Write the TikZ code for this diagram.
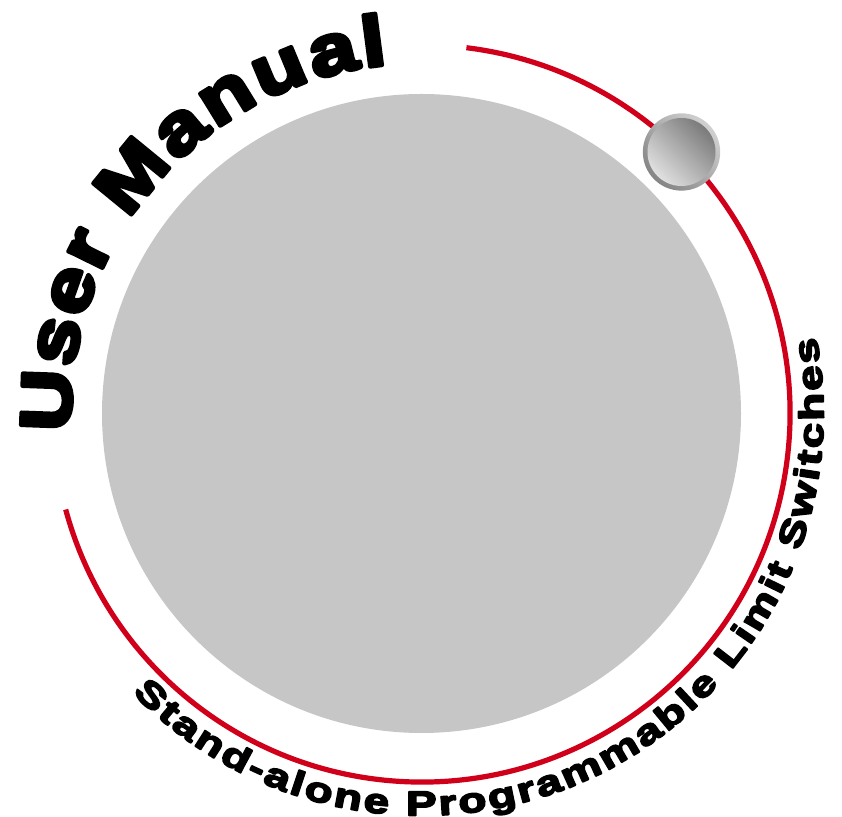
\documentclass[tikz,border=0pt]{standalone}
\usepackage{fontspec}
\usetikzlibrary{decorations.text}
\newfontfamily\heavyfont[FakeBold=6,FakeStretch=1.2]{Liberation Sans Bold}
\newfontfamily\heavysmall[FakeBold=5,FakeStretch=1.33]{Liberation Sans Bold}
\definecolor{discgray}{RGB}{198,198,198}
\definecolor{arcred}{RGB}{208,0,27}
\tikzset{
  disc/.style={circle,fill=discgray,draw=none,minimum size=479.25pt,inner sep=0pt},
  kniprim/.style={circle,draw=none,minimum size=58pt,inner sep=0pt,left color=black!18,right color=black!48,shading angle=-45},
  knipface/.style={circle,draw=none,minimum size=51pt,inner sep=0pt,left color=black!52,right color=black!12,shading angle=-45},
  redarc/.style={draw=arcred,line width=3.9pt}
}
\begin{document}
\begin{tikzpicture}[x=0.75pt,y=0.75pt,line join=round]
\useasboundingbox (0,0) rectangle (842,817);
\coordinate (c) at (421.5,403.5);
\node[disc] (d) at (c) {};
\draw[redarc] ([shift={(83:276.4pt)}]c) arc[start angle=83,end angle=-164.9,radius=276.4pt];
\node[kniprim] (k1) at (681.5,665) {};
\node[knipface] (k2) at (k1) {};
\path[decorate,decoration={text along path,text align={fit to path},
  text={|\heavyfont\fontsize{53.5pt}{60pt}\selectfont|User}}]
  ([shift={(183:263pt)}]c) arc[start angle=183,end angle=151,radius=263pt];
\path[decorate,decoration={text along path,text align={fit to path},
  text={|\heavyfont\fontsize{53.5pt}{60pt}\selectfont|Manual}}]
  ([shift={(146.5:263pt)}]c) arc[start angle=146.5,end angle=95.5,radius=263pt];
\path[decorate,decoration={text along path,text align={fit to path},
  text={|\heavysmall\fontsize{26pt}{30pt}\selectfont|Stand-alone Programmable Limit Switches}}]
  ([shift={(224:301.5pt)}]c) arc[start angle=224,end angle=371,radius=301.5pt];
\end{tikzpicture}
\end{document}
